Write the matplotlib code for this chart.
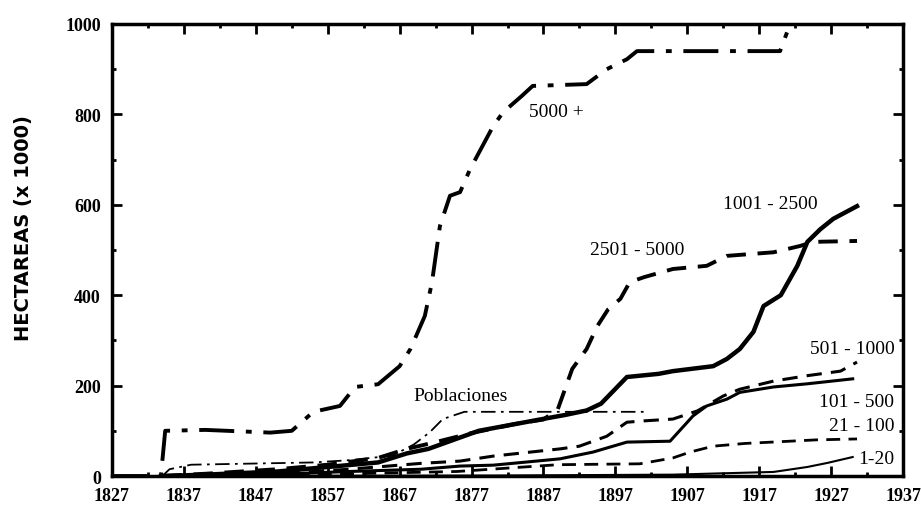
import matplotlib.pyplot as plt

# Series (year, hectares x 1000)
yr_5000 = [1827, 1833.8, 1834.4, 1840, 1849, 1852, 1855, 1858.7, 1860.8, 1864, 1867, 1868.5, 1870.5, 1871.5,
           1872.6, 1874, 1875.4, 1876.8, 1880, 1881.4, 1884, 1885.5, 1893, 1895.8, 1898.6, 1900, 1919.9, 1921.3, 1937]
v_5000 = [0, 0, 100, 102, 96, 100, 142, 155, 197, 203, 243, 281, 354, 429,
          553, 620, 628, 679, 774, 805, 841, 863, 867, 900, 922, 940, 940, 1000, 1000]

yr_2501 = [1834, 1840, 1850, 1857, 1864, 1868, 1872, 1877, 1883, 1887, 1889, 1891, 1893, 1894.5, 1896,
           1897.7, 1899, 1901, 1905, 1909.7, 1912.5, 1919, 1922.7, 1924.5, 1930.6]
v_2501 = [0, 5, 15, 25, 40, 60, 75, 95, 115, 125, 148, 237, 281, 332, 369,
          392, 429, 440, 458, 465, 487, 495, 509, 518, 520]

yr_1001 = [1834, 1840, 1850, 1857, 1864, 1868, 1871, 1878, 1886.5, 1890, 1893, 1895, 1898.6, 1903, 1905,
           1910.6, 1912.5, 1914.3, 1916.2, 1917.6, 1920, 1922.3, 1923.7, 1925.5, 1927.3, 1930.6]
v_1001 = [0, 3, 10, 20, 30, 50, 60, 100, 125, 135, 145, 160, 219, 226, 232,
          243, 259, 281, 319, 376, 400, 465, 518, 546, 569, 597]

yr_pob = [1834, 1835, 1838, 1855, 1860, 1866, 1869, 1871.2, 1873, 1876, 1901]
v_pob = [0, 15, 25, 30, 35, 45, 70, 97, 126, 142, 142]

yr_501 = [1834, 1850, 1860, 1870, 1875.4, 1880, 1889.3, 1892, 1895.8, 1898.6, 1901, 1905, 1908.4,
          1912, 1914.3, 1919, 1923.7, 1928.3, 1930.6]
v_501 = [0, 5, 15, 28, 33, 44, 60, 66, 88, 119, 122, 126, 144,
         177, 192, 210, 222, 232, 252]

yr_101 = [1834, 1850, 1860, 1870, 1875.4, 1880, 1884.7, 1889.3, 1893.9, 1898.6, 1904.6, 1907.8,
          1909.7, 1912.5, 1914.3, 1919, 1923.7, 1930]
v_101 = [0, 4, 10, 15, 22, 24, 31, 38, 53, 75, 77, 133,
         155, 170, 185, 197, 204, 215]

yr_21 = [1834, 1860, 1875, 1889, 1900.4, 1905, 1907.4, 1910.6, 1915, 1920, 1925, 1930.6]
v_21 = [0, 5, 10, 25, 27, 40, 53, 66, 72, 76, 80, 82]

yr_1 = [1834, 1880, 1905, 1919, 1923.7, 1926.5, 1930]
v_1 = [0, 1, 3, 9, 20, 29, 42]

# labels placed next to curves
labels = ['5000 +', '1001 - 2500', '2501 - 5000', 'Poblaciones', '501 - 1000', '101 - 500', '21 - 100', '1-20']
label_pos = [(1885, 807), (1912, 602), (1893.5, 502), (1868.9, 178), (1935.8, 281), (1935.8, 164), (1935.8, 111), (1935.8, 38)]
label_ha = ['left', 'left', 'left', 'left', 'right', 'right', 'right', 'right']

xticks = list(range(1827, 1938, 10))
yticks = [0, 200, 400, 600, 800, 1000]

plt.rcParams['font.family'] = ['Liberation Serif', 'DejaVu Serif']
fig = plt.figure(figsize=(9.21, 5.06), dpi=100)
ax = fig.add_axes([0.1216, 0.0573, 0.8589, 0.8933])

ax.plot(yr_5000, v_5000, color='black', lw=2.8, linestyle=(0, (9, 3, 1.5, 3)))
ax.plot(yr_2501, v_2501, color='black', lw=2.8, linestyle=(0, (5, 3)))
ax.plot(yr_1001, v_1001, color='black', lw=3.2, linestyle='-')
ax.plot(yr_pob, v_pob, color='black', lw=1.3, linestyle=(0, (8, 3, 1.5, 3)))
ax.plot(yr_501, v_501, color='black', lw=2.2, linestyle=(0, (5, 3)))
ax.plot(yr_101, v_101, color='black', lw=2.2, linestyle='-')
ax.plot(yr_21, v_21, color='black', lw=2, linestyle=(0, (5, 3)))
ax.plot(yr_1, v_1, color='black', lw=1.5, linestyle='-')

for lab, (lx, ly), ha in zip(labels, label_pos, label_ha):
    ax.text(lx, ly, lab, fontsize=14, ha=ha, va='center')

ax.set_xlim(1827, 1937)
ax.set_ylim(0, 1000)
ax.set_xticks(xticks)
ax.set_yticks(yticks)
ax.set_xticks(range(1832, 1937, 10), minor=True)
ax.set_yticks(range(100, 1000, 200), minor=True)
ax.tick_params(which='both', direction='in', top=True, right=True, width=2, labelsize=13)
ax.tick_params(which='major', length=7)
ax.tick_params(which='minor', length=3)
ax.tick_params(axis='x', pad=8)
ax.tick_params(axis='y', pad=8)
for lbl in ax.get_xticklabels() + ax.get_yticklabels():
    lbl.set_fontweight('bold')
for s in ax.spines.values():
    s.set_linewidth(2.5)
ax.set_ylabel('HECTAREAS (x 1000)', fontsize=14, fontweight='bold', family='DejaVu Sans')
ax.yaxis.set_label_coords(-0.10, 0.55)

fig.savefig('out.png', dpi=100)
